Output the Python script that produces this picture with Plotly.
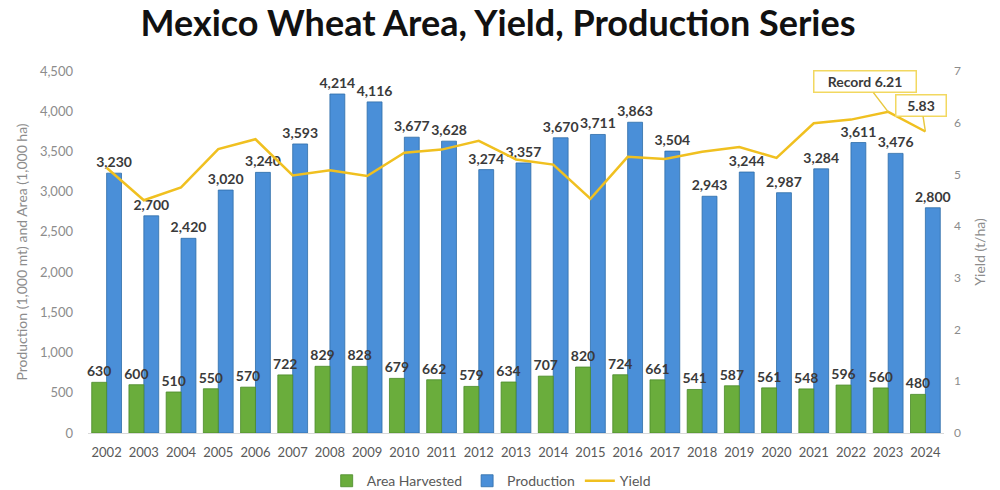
import plotly.graph_objects as go

years = [str(y) for y in range(2002, 2025)]
area = [630, 600, 510, 550, 570, 722, 829, 828, 679, 662, 579, 634, 707, 820, 724, 661, 541, 587, 561, 548, 596, 560, 480]
production = [3230, 2700, 2420, 3020, 3240, 3593, 4214, 4116, 3677, 3628, 3274, 3357, 3670, 3711, 3863, 3504, 2943, 3244, 2987, 3284, 3611, 3476, 2800]
yield_t = [5.13, 4.50, 4.75, 5.49, 5.68, 4.98, 5.08, 4.97, 5.42, 5.48, 5.65, 5.29, 5.19, 4.53, 5.34, 5.30, 5.44, 5.53, 5.32, 5.99, 6.06, 6.21, 5.83]

FONT = "Lato"
BLUE = "#4A8FD8"
GREEN = "#6AAD3C"
GOLD = "#F0C020"
LABEL = "#3a3a3a"

fig = go.Figure()

fig.add_trace(go.Bar(
    x=years, y=production, name="Production",
    marker=dict(color=BLUE, line=dict(color="#2F6DA8", width=0.8)),
    width=0.4, offset=0.0,
    texttemplate="<b>%{y:,}</b>", textposition="outside",
    textfont=dict(family=FONT, size=14, color=LABEL),
    constraintext="none", cliponaxis=False, legendrank=2,
))
fig.add_trace(go.Bar(
    x=years, y=area, name="Area Harvested",
    marker=dict(color=GREEN, line=dict(color="#4A8A28", width=0.8)),
    width=0.4, offset=-0.4,
    texttemplate="<b>%{y:,}</b>", textposition="outside",
    textfont=dict(family=FONT, size=14, color=LABEL),
    constraintext="none", cliponaxis=False, legendrank=1,
))
fig.add_trace(go.Scatter(
    x=years, y=yield_t, name="Yield", yaxis="y2", mode="lines",
    line=dict(color=GOLD, width=2.5), legendrank=3, cliponaxis=False,
))

callouts = [("2023", "Record 6.21", -23, -30, 99), ("2024", "5.83", -4, -26, 47)]
for yr, txt, ax, ay, w in callouts:
    i = years.index(yr)
    fig.add_annotation(
        x=i, y=yield_t[i], xref="x", yref="y2", text=f"<b>{txt}</b>",
        showarrow=True, arrowhead=0, arrowwidth=1.5, arrowcolor="#E8C840",
        ax=ax, ay=ay, width=w, height=18, align="center",
        font=dict(family=FONT, size=14, color=LABEL),
        bgcolor="white", bordercolor="#F2D860", borderwidth=1.5, borderpad=1,
    )

fig.update_layout(
    width=1000, height=490,
    barmode="overlay",
    plot_bgcolor="white", paper_bgcolor="white",
    margin=dict(l=88, r=56, t=71, b=57, autoexpand=False),
    title=dict(text="<b>Mexico Wheat Area, Yield, Production Series</b>",
               x=0.498, xanchor="center", y=1 - 23 / 490, yanchor="middle", yref="container",
               font=dict(family=FONT, size=36, color="#111111")),
    font=dict(family=FONT),
    xaxis=dict(type="category", categoryorder="array", categoryarray=years,
               range=[-0.5, len(years) - 0.5], showgrid=False, showline=True, linecolor="#d9d9d9",
               ticks="", ticklabelstandoff=7,
               tickfont=dict(family=FONT, size=13, color="#595959")),
    yaxis=dict(range=[0, 4500], dtick=500, tickformat=",", showgrid=False, zeroline=False,
               ticklabelstandoff=14,
               tickfont=dict(family=FONT, size=13, color="#8c8c8c"),
               title=dict(text="Production (1,000 mt) and Area (1,000 ha)",
                          font=dict(family=FONT, size=14, color="#8c8c8c"), standoff=8)),
    yaxis2=dict(range=[0, 7], dtick=1, overlaying="y", side="right", showgrid=False,
                zeroline=False, ticklabelstandoff=9,
                tickfont=dict(family=FONT, size=12, color="#8c8c8c"),
                title=dict(text="Yield (t/ha)", font=dict(family=FONT, size=14, color="#8c8c8c"),
                           standoff=15)),
    legend=dict(orientation="h", x=0.471, xanchor="center", y=-0.133, yanchor="middle",
                font=dict(family=FONT, size=14, color="#595959"), traceorder="normal"),
)

fig.write_html("out.html", config={"displayModeBar": False},
               post_script="document.body.style.margin='0';")
